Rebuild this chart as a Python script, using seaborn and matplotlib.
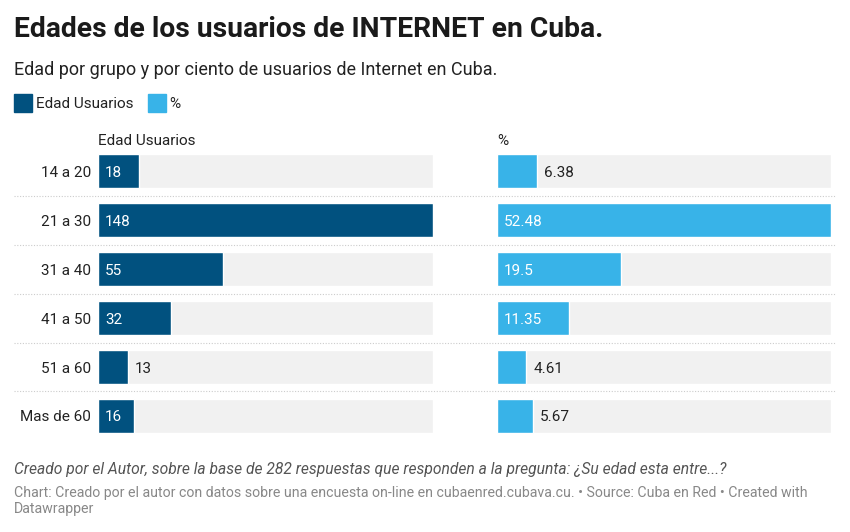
import matplotlib
matplotlib.use("Agg")
import matplotlib.pyplot as plt
from matplotlib.lines import Line2D
from matplotlib.patches import Rectangle
import seaborn as sns
import pandas as pd

# datos
grupos = ['14 a 20', '21 a 30', '31 a 40', '41 a 50', '51 a 60', 'Mas de 60']
usuarios = [18, 148, 55, 32, 13, 16]
porciento = [6.38, 52.48, 19.5, 11.35, 4.61, 5.67]
etiquetas_usuarios = ['18', '148', '55', '32', '13', '16']
etiquetas_porciento = ['6.38', '52.48', '19.5', '11.35', '4.61', '5.67']

oscuro = '#01517f'
claro = '#38b3e8'
gris_fondo = '#f1f1f1'

sns.set_theme(style='white')
plt.rcParams['font.family'] = ['Roboto', 'DejaVu Sans']

df = pd.DataFrame({'grupo': grupos, 'usuarios': usuarios, 'porciento': porciento})

fig = plt.figure(figsize=(8.5, 5.32), dpi=100)
ax1 = fig.add_axes([0.1155, 0.172, 0.394, 0.5526])
ax2 = fig.add_axes([0.5845, 0.172, 0.3935, 0.5526])


def panel(ax, col, color, etiquetas):
    maximo = df[col].max()
    sns.barplot(x=[maximo] * len(df), y=df['grupo'], orient='h', color=gris_fondo,
                width=0.69, ax=ax, saturation=1)
    sns.barplot(data=df, x=col, y='grupo', orient='h', color=color,
                width=0.69, ax=ax, saturation=1)
    ax.set_xlim(0, maximo)
    ax.set_ylim(len(df) - 0.5, -0.5)
    ax.set_xlabel('')
    ax.set_ylabel('')
    ax.set_xticks([])
    sns.despine(ax=ax, left=True, bottom=True)
    ancho_px = ax.get_window_extent().width
    for i, (v, t) in enumerate(zip(df[col], etiquetas)):
        bar_px = v / maximo * ancho_px
        texto_px = sum(4 if c == '.' else 8.3 for c in t)
        pad = 7 / ancho_px * maximo
        if bar_px > texto_px + 16:
            ax.text(pad, i, t, color='white', va='center_baseline', ha='left', fontsize=11)
        else:
            ax.text(v + pad, i, t, color='#222222', va='center_baseline', ha='left', fontsize=11)


panel(ax1, 'usuarios', oscuro, etiquetas_usuarios)
panel(ax2, 'porciento', claro, etiquetas_porciento)

ax1.tick_params(axis='y', length=0, pad=5, labelsize=11, labelcolor='#222222')
for lab in ax1.get_yticklabels():
    lab.set_verticalalignment('center_baseline')
ax2.set_yticklabels([])
ax2.tick_params(axis='y', length=0)

ax1.text(0, -0.53, 'Edad Usuarios', fontsize=11, color='#222222', va='baseline', ha='left')
ax2.text(0, -0.53, '%', fontsize=11, color='#222222', va='baseline', ha='left')

# lineas divisorias punteadas
inv = fig.transFigure.inverted()
for k in range(len(grupos) - 1):
    y_fig = inv.transform(ax1.transData.transform((0, k + 0.5)))[1]
    fig.add_artist(Line2D([0.0165, 0.984], [y_fig, y_fig], color='#cccccc',
                          lw=0.8, linestyle=(0, (1, 1.5))))

# titulos
fig.text(0.0165, 0.944, 'Edades de los usuarios de INTERNET en Cuba.', fontsize=20.3,
         fontweight='bold', color='#1a1a1a', va='center', ha='left')
fig.text(0.0165, 0.868, 'Edad por grupo y por ciento de usuarios de Internet en Cuba.',
         fontsize=13, color='#222222', va='center', ha='left')

# leyenda
fig.add_artist(Rectangle((0.0165, 0.79), 0.0212, 0.034, transform=fig.transFigure,
                         color=oscuro))
fig.text(0.042, 0.805, 'Edad Usuarios', fontsize=11, color='#222222', va='center')
fig.add_artist(Rectangle((0.174, 0.79), 0.0212, 0.034, transform=fig.transFigure,
                         color=claro))
fig.text(0.199, 0.805, '%', fontsize=11, color='#222222', va='center')

# notas
fig.text(0.0165, 0.118, 'Creado por el Autor, sobre la base de 282 respuestas que responden a la pregunta: ¿Su edad esta entre...?',
         fontsize=11.25, style='italic', color='#555555', va='center')
fig.text(0.0165, 0.073, 'Chart: Creado por el autor con datos sobre una encuesta on-line en cubaenred.cubava.cu. • Source: Cuba en Red • Created with',
         fontsize=10.2, color='#888888', va='center')
fig.text(0.0165, 0.043, 'Datawrapper', fontsize=10.2, color='#888888', va='center')

fig.savefig('out.png', dpi=100, facecolor='white')
